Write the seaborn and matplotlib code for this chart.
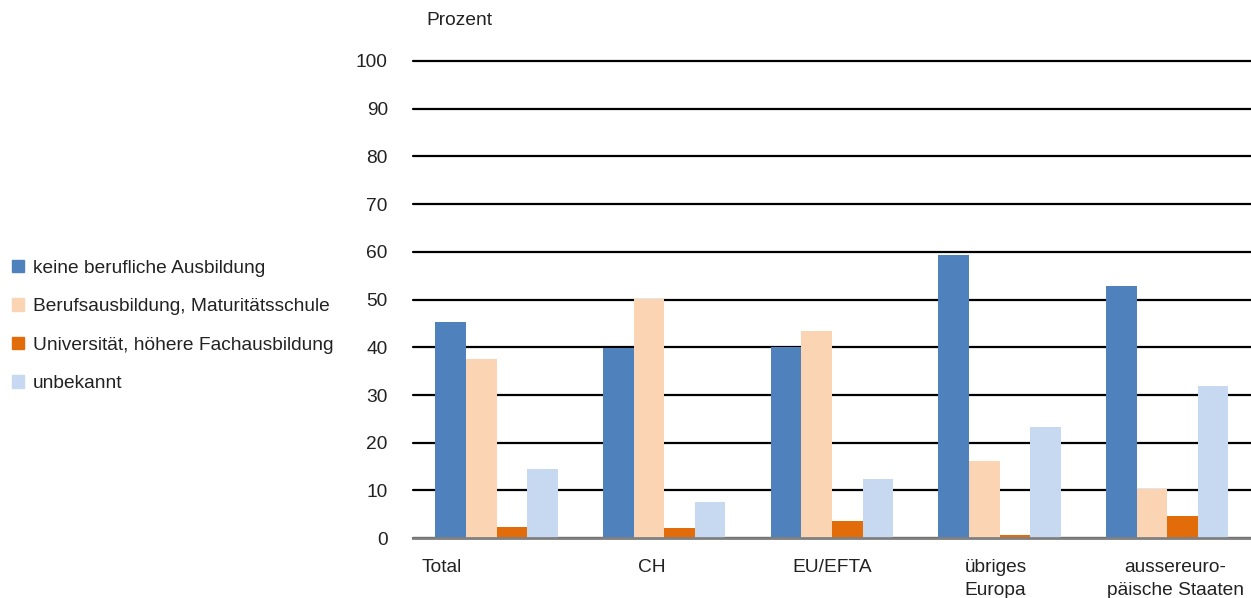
import seaborn as sns
import matplotlib.pyplot as plt
import matplotlib.patches as mpatches
from matplotlib.transforms import ScaledTranslation
import pandas as pd

# Daten (Prozent)
regionen = ["Total", "CH", "EU/EFTA", "übriges\nEuropa", "aussereuro-\npäische Staaten"]
serien = ["keine berufliche Ausbildung", "Berufsausbildung, Maturitätsschule",
          "Universität, höhere Fachausbildung", "unbekannt"]
keine = [45.3, 39.8, 40.0, 59.3, 52.8]
beruf = [37.5, 50.2, 43.5, 16.2, 10.3]
uni = [2.4, 2.2, 3.6, 0.7, 4.6]
unbekannt = [14.5, 7.5, 12.5, 23.4, 31.8]
farben = ["#4F81BD", "#FBD4B4", "#E36C0A", "#C6D9F1"]

df = pd.DataFrame({
    "region": regionen * 4,
    "serie": [s for s in serien for _ in regionen],
    "wert": keine + beruf + uni + unbekannt,
})

sns.set_theme(style="white")
plt.rcParams["font.family"] = ["Liberation Sans", "DejaVu Sans"]
fs = 13.8

fig = plt.figure(figsize=(12.51, 5.98), dpi=100)
ax = fig.add_axes([0.330, 0.100, 0.670, 0.798])

sns.barplot(data=df, x="region", y="wert", hue="serie", hue_order=serien,
            palette=farben, saturation=1, width=0.73, linewidth=0,
            legend=False, ax=ax, zorder=3)

ax.set_ylim(0, 100)
ax.set_xlim(-0.5, 4.5)
ax.set_yticks(range(0, 101, 10))
ax.yaxis.grid(True, color="black", linewidth=1.6, zorder=0)
for gl in ax.get_ygridlines():
    gl.set_clip_on(False)
ax.set_axisbelow(True)
for s in ["top", "right", "left"]:
    ax.spines[s].set_visible(False)
ax.spines["bottom"].set_color("#808080")
ax.spines["bottom"].set_linewidth(2)
ax.spines["bottom"].set_zorder(4)
ax.tick_params(axis="both", length=0, labelsize=fs, colors="#222222")
ax.tick_params(axis="y", pad=18)
ax.tick_params(axis="x", pad=15)
ax.set_xlabel("")
ax.set_ylabel("")

# Beschriftungen wie im Original leicht versetzt
versatz = [-55, -12, 0, -4, 8]
for lab, dx in zip(ax.get_xticklabels(), versatz):
    lab.set_linespacing(1.45)
    lab.set_transform(lab.get_transform() + ScaledTranslation(dx / 100, 0, fig.dpi_scale_trans))

fig.text(0.341, 0.965, "Prozent", fontsize=fs, color="#222222", va="center")

handles = [mpatches.Patch(color=c, label=s) for c, s in zip(farben, serien)]
fig.legend(handles=handles, loc="center left", bbox_to_anchor=(-0.0045, 0.455),
           frameon=False, fontsize=fs, handlelength=0.62, handleheight=0.62,
           handletextpad=0.5, labelspacing=1.12, labelcolor="#222222")

fig.savefig("out.png", dpi=100)
